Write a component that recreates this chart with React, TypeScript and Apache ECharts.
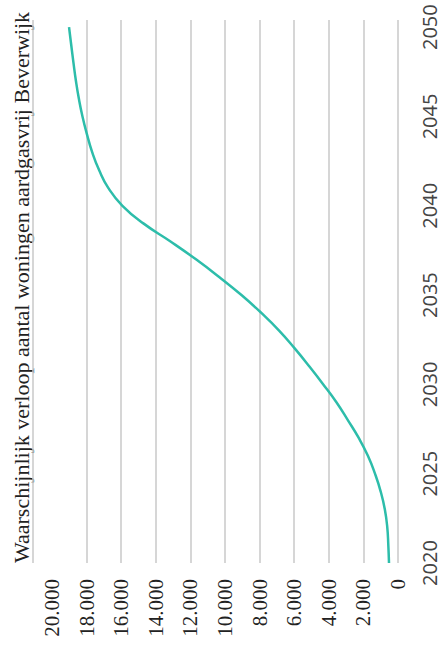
import React, { useEffect, useRef } from "react";
import * as echarts from "echarts";

const TITLE = "Waarschijnlijk verloop aantal woningen aardgasvrij Beverwijk";
const years = [2020, 2021, 2022, 2023, 2024, 2025, 2026, 2027, 2028, 2029, 2030, 2031, 2032, 2033, 2034, 2035, 2036, 2037, 2038, 2039, 2040, 2041, 2042, 2043, 2044, 2045, 2046, 2047, 2048, 2049, 2050];
const woningen = [520, 560, 620, 760, 1000, 1330, 1740, 2270, 2900, 3560, 4320, 5120, 5960, 6860, 7900, 9050, 10320, 11680, 13150, 14700, 15930, 16750, 17280, 17680, 17980, 18240, 18450, 18620, 18760, 18890, 19017];
const valueMax = 21100;
const valueStep = 2000;
const yearMin = 2020;
const yearMax = 2050.4;
const yearStep = 5;

function fmtThousands(v: number): string {
  return String(Math.round(v)).replace(/\B(?=(\d{3})+(?!\d))/g, ".");
}

export default function App() {
  const ref = useRef<HTMLDivElement>(null);
  useEffect(() => {
    if (!ref.current) return;
    const chart = echarts.init(ref.current, null, { renderer: "svg" });
    const gridColors: string[] = [];
    for (let v = 0; v <= valueMax; v += valueStep) gridColors.push(v === 20000 ? "rgba(0,0,0,0)" : "#c8c8c8");
    gridColors.push("#c8c8c8");
    chart.setOption({
      animation: false,
      grid: { left: 33, right: 43, top: 20, bottom: 101, containLabel: false },
      xAxis: {
        type: "value",
        inverse: true,
        min: 0,
        max: valueMax,
        interval: valueStep,
        position: "bottom",
        axisLine: { show: false },
        axisTick: { show: false },
        splitLine: { show: true, lineStyle: { color: gridColors, width: 1.5 } },
        axisLabel: {
          rotate: 90,
          margin: 16,
          fontFamily: "Liberation Serif",
          fontSize: 21,
          color: "#222",
          formatter: (v: number) => (v % valueStep === 0 ? fmtThousands(v) : ""),
        },
      },
      yAxis: {
        type: "value",
        position: "right",
        min: yearMin,
        max: yearMax,
        interval: yearStep,
        axisLine: { show: false },
        axisTick: { show: false },
        splitLine: { show: false },
        axisLabel: {
          rotate: 90,
          margin: 24,
          fontFamily: "'Liberation Sans Narrow', 'Open Sans', sans-serif",
          fontSize: 20,
          lineHeight: 14,
          color: "#444",
          formatter: (v: number) => (Math.abs(v % yearStep) < 1e-9 ? String(v) : ""),
        },
      },
      graphic: [
        {
          type: "text",
          x: 21,
          y: 563,
          rotation: Math.PI / 2,
          style: {
            text: TITLE,
            fontFamily: "Liberation Serif",
            fontSize: 22,
            fill: "#222",
            textAlign: "left",
            textVerticalAlign: "middle",
          },
        },
      ],
      series: [
        {
          type: "line",
          data: years.map((y, i) => [woningen[i], y]),
          smooth: true,
          symbol: "none",
          lineStyle: { color: "#2dbdaa", width: 2.5 },
        },
      ],
    });
    return () => chart.dispose();
  }, []);
  return <div ref={ref} style={{ position: "absolute", left: 0, top: 0, width: 441, height: 664 }} />;
}
